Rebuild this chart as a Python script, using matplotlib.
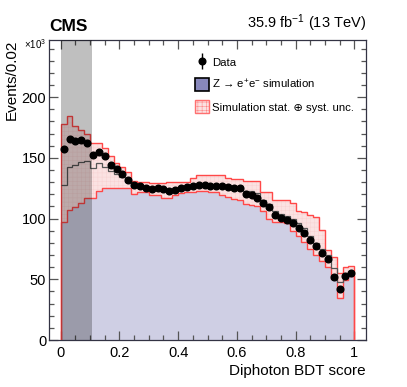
import numpy as np
import matplotlib
matplotlib.use("Agg")
import matplotlib.pyplot as plt
from matplotlib.lines import Line2D
from matplotlib.patches import Patch
from matplotlib.legend_handler import HandlerTuple

plt.rcParams['font.family'] = ['Liberation Sans', 'DejaVu Sans']
plt.rcParams['mathtext.fontset'] = 'custom'
plt.rcParams['mathtext.rm'] = 'Liberation Sans'
plt.rcParams['mathtext.it'] = 'Liberation Sans:italic'
plt.rcParams['hatch.linewidth'] = 0.3

# 50 bins of width 0.02, values in units of 10^3 events
edges = np.linspace(0, 1, 51)
data = [157.5, 165.4, 163.5, 165.0, 162.0, 152.0, 154.7, 151.7, 144.0, 140.5,
        136.6, 131.4, 127.3, 126.5, 125.4, 124.0, 124.8, 124.0, 122.6, 123.5,
        125.3, 126.0, 127.2, 127.6, 127.3, 127.0, 126.5, 126.7, 126.2, 125.2,
        125.0, 120.2, 119.5, 117.1, 113.0, 109.5, 102.6, 100.8, 99.0, 96.0,
        92.0, 88.0, 82.5, 77.0, 72.0, 67.0, 52.0, 42.0, 52.5, 55.5]
mc = [127.6, 142.7, 144.0, 146.3, 147.6, 141.3, 145.4, 142.7, 139.3, 136.6,
      133.9, 130.3, 126.0, 126.0, 125.5, 124.5, 124.5, 123.5, 123.5, 124.5,
      125.5, 126.0, 127.0, 128.0, 127.5, 127.0, 128.0, 127.5, 126.5, 126.0,
      125.5, 123.0, 122.5, 121.0, 115.5, 112.0, 106.0, 104.0, 102.0, 99.5,
      96.0, 92.0, 86.0, 80.0, 75.0, 70.0, 59.0, 48.0, 53.0, 56.0]
band_hi = [178.0, 184.5, 176.5, 173.0, 170.0, 162.5, 162.0, 157.8, 151.4, 146.0,
           142.5, 138.6, 131.1, 130.3, 130.3, 129.0, 129.0, 129.0, 130.0, 130.3,
           130.3, 130.3, 133.6, 135.5, 135.5, 135.5, 135.8, 135.5, 133.0, 132.5,
           132.5, 130.9, 130.9, 130.9, 121.5, 121.5, 115.2, 115.2, 115.2, 112.5,
           106.0, 105.6, 103.0, 101.5, 90.5, 74.0, 68.0, 55.0, 59.8, 60.9]
band_lo = [97.4, 107.0, 109.2, 112.5, 117.1, 116.6, 122.9, 124.8, 124.8, 124.8,
           124.8, 124.8, 119.9, 121.5, 121.5, 119.3, 119.3, 117.1, 117.1, 119.3,
           120.7, 122.1, 122.1, 122.6, 122.6, 121.5, 121.5, 119.3, 118.0, 116.0,
           115.0, 112.0, 111.0, 110.0, 106.0, 100.0, 97.4, 97.0, 96.0, 90.0,
           86.0, 81.0, 75.0, 70.0, 65.0, 60.0, 50.0, 34.3, 49.4, 53.0]
blind_hi = 0.105

centers = 0.5 * (edges[:-1] + edges[1:])

fig = plt.figure(figsize=(4.07, 3.87), dpi=100)
ax = fig.add_axes([0.1204, 0.1214, 0.7789, 0.7752])

zcol = '#8888bc'
pink = '#fbe2e2'
ax.stairs(mc, edges, fill=True, color=zcol, alpha=0.4, lw=0, zorder=1)
ax.stairs(band_hi, edges, baseline=band_lo, fill=True, facecolor=pink,
          edgecolor='#f7d0d0', hatch='++++', lw=0, zorder=2)
ax.stairs(band_hi, edges, baseline=0, color='#ff4848', lw=1.0, zorder=3)
ax.stairs(band_lo, edges, baseline=0, color='#ff4848', lw=1.0, zorder=3)
ax.stairs(mc, edges, baseline=None, color='#555555', lw=0.9, zorder=4)
ax.plot(centers, data, 'o', color='black', ms=4.8, zorder=5)
ax.axvspan(0, blind_hi, color='black', alpha=0.25, lw=0, zorder=6)

ax.set_xlim(-0.04, 1.04)
ax.set_ylim(0, 247)
ax.set_xticks([0, 0.2, 0.4, 0.6, 0.8, 1.0])
ax.set_xticklabels(['0', '0.2', '0.4', '0.6', '0.8', '1'])
ax.set_xticks(np.arange(0, 1.001, 0.05), minor=True)
ax.set_yticks([0, 50, 100, 150, 200])
ax.set_yticks(np.arange(0, 247, 10), minor=True)
ax.tick_params(which='both', direction='in', top=True, right=True,
               color='#555555', labelsize=10.5)
ax.tick_params(which='major', length=6.5, width=0.9)
ax.tick_params(which='minor', length=3.6, width=0.9)
ax.tick_params(axis='y', pad=2)
ax.tick_params(axis='x', pad=4)
for s in ax.spines.values():
    s.set_color('#333344')
    s.set_linewidth(0.9)

ax.set_ylabel('Events/0.02', fontsize=11, loc='top', labelpad=2)
ax.set_xlabel('Diphoton BDT score', fontsize=11, loc='right', labelpad=3)
ax.text(-0.01, 0.985, r'$\times$10$^{3}$', transform=ax.transAxes,
        ha='right', va='center', fontsize=7)
ax.text(0.0, 1.02, 'CMS', transform=ax.transAxes, ha='left', va='bottom',
        fontsize=12.5, fontweight='bold')
ax.text(1.0, 1.02, r'35.9 fb$^{-1}$ (13 TeV)', transform=ax.transAxes,
        ha='right', va='bottom', fontsize=10.5)

h_data = (Line2D([], [], color='black', marker='|', ms=11, mew=1, lw=0),
          Line2D([], [], color='black', marker='o', ms=4.8, lw=0))
h_z = Patch(facecolor=zcol, edgecolor='black', lw=1.2)
h_unc = Patch(facecolor=pink, edgecolor='#ff7070', hatch='++++', lw=1)
ax.legend([h_data, h_z, h_unc],
          ['Data', 'Z \u2192 e$^{+}$e$^{-}$ simulation',
           'Simulation stat. \u2295 syst. unc.'],
          handler_map={tuple: HandlerTuple(ndivide=1, pad=0)},
          loc='upper left', bbox_to_anchor=(0.462, 0.948), frameon=False,
          fontsize=8.2, handlelength=1.15, handleheight=1.35, handletextpad=0.3,
          labelspacing=0.82, borderpad=0, borderaxespad=0)

fig.savefig('out.png', dpi=100)
